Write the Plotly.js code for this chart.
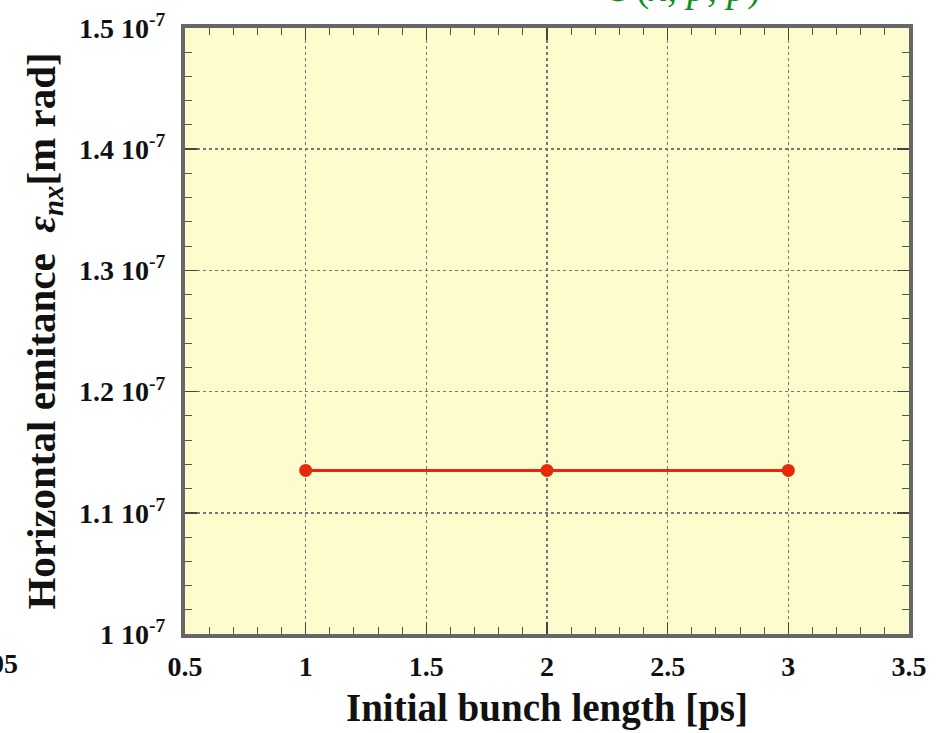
<!DOCTYPE html>
<html>
<head>
<meta charset="utf-8">
<script src="https://cdn.plot.ly/plotly-3.0.1.min.js"></script>
<style>html,body{margin:0;padding:0;background:#fff;}#chart{width:946px;height:733px;}</style>
</head>
<body>
<div id="chart"></div>
<script>
// Data
const bunchLength = [1, 2, 3];                 // ps
const emittance = [1.135e-7, 1.135e-7, 1.135e-7]; // m rad
const yTickVals = [1.0e-7, 1.1e-7, 1.2e-7, 1.3e-7, 1.4e-7, 1.5e-7];
const yTickText = ["1 10<sup>-7</sup>", "1.1 10<sup>-7</sup>", "1.2 10<sup>-7</sup>", "1.3 10<sup>-7</sup>", "1.4 10<sup>-7</sup>", "1.5 10<sup>-7</sup>"];
const xTickVals = [0.5, 1, 1.5, 2, 2.5, 3, 3.5];
const xTickText = ["0.5", "1", "1.5", "2", "2.5", "3", "3.5"];

const serif = "Liberation Serif, Times New Roman, serif";

const trace = {
  x: bunchLength,
  y: emittance,
  mode: "lines+markers",
  line: {color: "#e8280c", width: 3},
  marker: {color: "#e8280c", size: 13, symbol: "circle"},
  showlegend: false
};

const axisCommon = {
  showline: true, mirror: "ticks", linecolor: "#666", linewidth: 4,
  ticks: "inside", ticklen: 12, tickwidth: 1.5, tickcolor: "#444",
  showgrid: true, gridcolor: "#777", griddash: "dot", gridwidth: 1.5,
  zeroline: false,
  tickfont: {family: serif, size: 28, color: "#111", weight: "bold"}
};

const layout = {
  width: 946, height: 733,
  margin: {l: 185, r: 37, t: 28, b: 99},
  paper_bgcolor: "#ffffff",
  plot_bgcolor: "#fcfccc",
  xaxis: Object.assign({}, axisCommon, {
    range: [0.5, 3.5],
    tickmode: "array", tickvals: xTickVals, ticktext: xTickText,
    ticklabelstandoff: 4,
    minor: {dtick: 0.1, ticks: "inside", ticklen: 7, tickcolor: "#555", tickwidth: 1, showgrid: false},
    title: {text: "<b>Initial bunch length [ps]</b>", font: {family: serif, size: 39, color: "#111"}, standoff: 14}
  }),
  yaxis: Object.assign({}, axisCommon, {
    range: [1.0e-7, 1.5e-7],
    tickmode: "array", tickvals: yTickVals, ticktext: yTickText,
    ticklabelstandoff: 10,
    minor: {dtick: 0.02e-7, ticks: "inside", ticklen: 7, tickcolor: "#555", tickwidth: 1, showgrid: false},
    title: {text: "<b>Horizontal emitance  <i>ε<sub>nx</sub></i>[m rad]</b>", font: {family: serif, size: 41, color: "#111"}, standoff: 12}
  }),
  annotations: [
    {
      text: "②(<i>x</i>, <i>p</i>, <i>p</i>)",
      xref: "paper", yref: "paper", x: 0.57, y: 1.026, xanchor: "left", yanchor: "bottom",
      showarrow: false,
      font: {family: serif, size: 40, color: "#14901e"}
    },
    {
      text: "<b>05</b>",
      xref: "paper", yref: "paper", x: -0.228, y: -0.02, xanchor: "right", yanchor: "top",
      showarrow: false,
      font: {family: serif, size: 28, color: "#111"}
    }
  ]
};

Plotly.newPlot("chart", [trace], layout, {displayModeBar: false, staticPlot: true});
</script>
</body>
</html>
